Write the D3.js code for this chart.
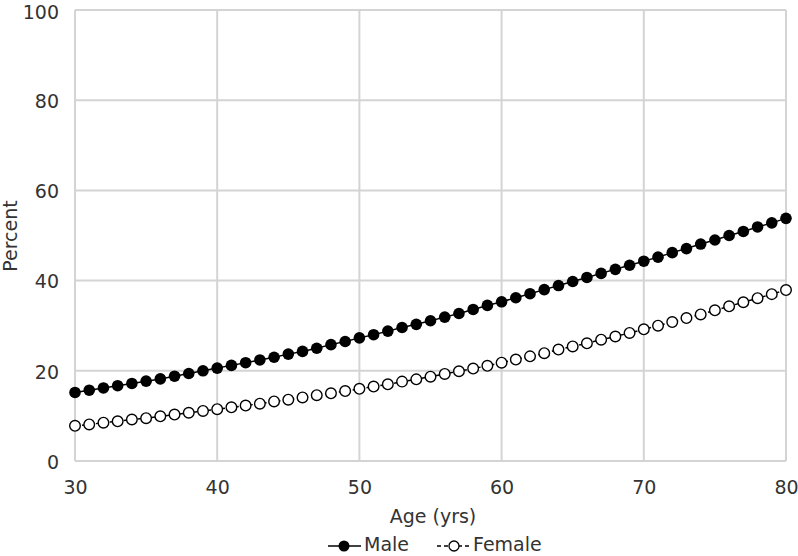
<!DOCTYPE html>
<html><head><meta charset="utf-8">
<script src="https://cdn.jsdelivr.net/npm/d3@7/dist/d3.min.js"></script>
<style>body{margin:0;background:#fff}svg text{font-family:"DejaVu Sans",sans-serif;fill:#333}</style>
</head><body><svg id="c" width="798" height="556"></svg>
<script>
const ages = d3.range(30, 81);
const male = [15.2,15.7,16.2,16.7,17.2,17.7,18.2,18.8,19.4,20.0,
  20.6,21.2,21.8,22.4,23.0,23.7,24.3,25.0,25.8,26.5,
  27.3,28.0,28.8,29.6,30.3,31.1,31.9,32.7,33.6,34.5,
  35.3,36.2,37.1,38.0,38.9,39.8,40.7,41.6,42.5,43.4,
  44.3,45.2,46.2,47.1,48.1,49.0,50.0,50.9,51.9,52.8,53.8];
const female = [7.8,8.1,8.5,8.8,9.2,9.5,9.9,10.3,10.7,11.1,
  11.5,11.9,12.3,12.7,13.2,13.6,14.1,14.6,15.0,15.5,
  16.0,16.5,17.0,17.6,18.1,18.7,19.3,19.9,20.5,21.1,
  21.8,22.5,23.2,23.9,24.7,25.4,26.1,26.9,27.6,28.4,
  29.2,30.0,30.8,31.7,32.5,33.4,34.3,35.2,36.1,37.0,37.9];
const xTicks = [30,40,50,60,70,80];
const yTicks = [0,20,40,60,80,100];

const svg = d3.select("#c");
const L=75, R=786, T=10, B=461;
const x = d3.scaleLinear().domain([30,80]).range([L,R]);
const y = d3.scaleLinear().domain([0,100]).range([B,T]);
const grid = "#d4d4d4";
const FS = "19px";

// gridlines
svg.append("g").selectAll("line").data(yTicks).join("line")
  .attr("x1",L).attr("x2",R).attr("y1",d=>y(d)).attr("y2",d=>y(d))
  .attr("stroke",grid).attr("stroke-width",2);
svg.append("g").selectAll("line").data(xTicks).join("line")
  .attr("y1",T).attr("y2",B).attr("x1",d=>x(d)).attr("x2",d=>x(d))
  .attr("stroke",grid).attr("stroke-width",2);

// axes labels
const yAxis = d3.axisLeft(y).tickValues(yTicks).tickSize(0).tickPadding(16);
const gy = svg.append("g").attr("transform",`translate(${L},0)`).call(yAxis);
gy.select(".domain").remove();
gy.selectAll("text").style("font-size",FS).attr("dy","0.38em");
gy.selectAll(".tick").filter(d=>d===100).select("text").attr("y",1.5);
const xAxis = d3.axisBottom(x).tickValues(xTicks).tickSize(0).tickPadding(0);
const gx = svg.append("g").attr("transform",`translate(0,${B})`).call(xAxis);
gx.select(".domain").remove();
gx.selectAll("text").style("font-size",FS).attr("y",33).attr("dy",0);

svg.append("text").attr("x",433).attr("y",523).attr("text-anchor","middle")
  .style("font-size",FS).text("Age (yrs)");
svg.append("text").attr("transform","translate(17,236) rotate(-90)").attr("text-anchor","middle")
  .style("font-size",FS).text("Percent");

// series
const line = d3.line().x((d,i)=>x(ages[i])).y(d=>y(d));
svg.append("path").datum(female).attr("d",line).attr("fill","none")
  .attr("stroke","#000").attr("stroke-width",1.5).attr("stroke-dasharray","4,3");
svg.append("g").selectAll("circle").data(female).join("circle")
  .attr("cx",(d,i)=>x(ages[i])).attr("cy",d=>y(d)).attr("r",5.3)
  .attr("fill","#fff").attr("stroke","#000").attr("stroke-width",1.4);
svg.append("path").datum(male).attr("d",line).attr("fill","none")
  .attr("stroke","#000").attr("stroke-width",1.5);
svg.append("g").selectAll("circle").data(male).join("circle")
  .attr("cx",(d,i)=>x(ages[i])).attr("cy",d=>y(d)).attr("r",5.8)
  .attr("fill","#000");

// legend
const ly = 546, lb = 551;
const lg = svg.append("g");
lg.append("line").attr("x1",328).attr("x2",361).attr("y1",ly).attr("y2",ly).attr("stroke","#000").attr("stroke-width",1.5);
lg.append("circle").attr("cx",344).attr("cy",ly).attr("r",5.5).attr("fill","#000");
lg.append("text").attr("x",364).attr("y",lb).style("font-size",FS).text("Male");
lg.append("line").attr("x1",437).attr("x2",472).attr("y1",ly).attr("y2",ly).attr("stroke","#000").attr("stroke-width",1.5).attr("stroke-dasharray","4,3");
lg.append("circle").attr("cx",454).attr("cy",ly).attr("r",5).attr("fill","#fff").attr("stroke","#000").attr("stroke-width",1.3);
lg.append("text").attr("x",473).attr("y",lb).style("font-size",FS).text("Female");
</script></body></html>
